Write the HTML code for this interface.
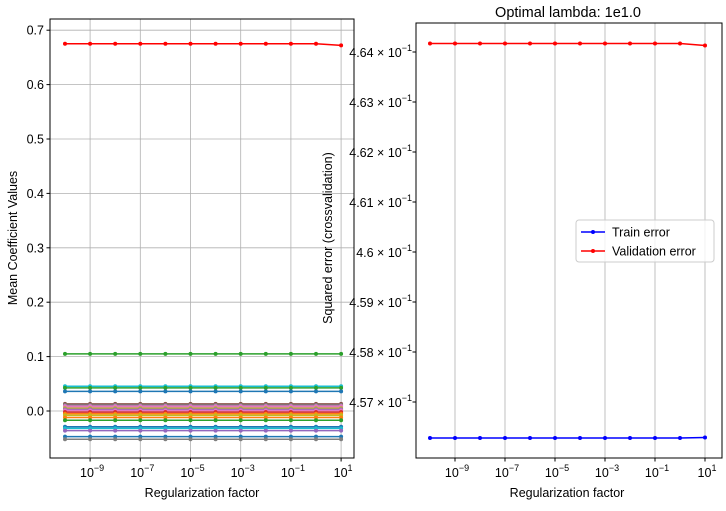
<!DOCTYPE html>
<html><head><meta charset="utf-8"><style>
body{margin:0;background:#fff;}
svg text{font-family:"Liberation Sans",sans-serif;fill:#000;}
</style></head><body>
<svg id="c" width="726" height="506" xmlns="http://www.w3.org/2000/svg"></svg>
<script>
const lambdasExp=[-10,-9,-8,-7,-6,-5,-4,-3,-2,-1,0,1];
const xTickExp=[-9,-7,-5,-3,-1,1];
const leftYTicks=[0.0,0.1,0.2,0.3,0.4,0.5,0.6,0.7];
const coefBase=[0.675,0.105,0.0455,0.0424,0.036,0.013,0.011,0.009,0.007,0.005,0.003,0.001,-0.002,-0.005,-0.008,-0.012,-0.017,-0.029,-0.032,-0.036,-0.047,-0.052];
const coefColors=['#ff0000','#2ca02c','#17becf','#2ca02c','#1f77b4','#8c564b','#7f7f7f','#e377c2','#e377c2','#bcbd22','#9467bd','#e377c2','#d62728','#ff7f0e','#bcbd22','#ff7f0e','#2ca02c','#1f77b4','#17becf','#9467bd','#1f77b4','#7f7f7f'];
const coefLast=[0.672];
const trainErr=[0.45628,0.45628,0.45628,0.45628,0.45628,0.45628,0.45628,0.45628,0.45628,0.45628,0.45628,0.45629];
const valErr=[0.46417,0.46417,0.46417,0.46417,0.46417,0.46417,0.46417,0.46417,0.46417,0.46417,0.46417,0.46413];
const rightYTicks=[0.457,0.458,0.459,0.46,0.461,0.462,0.463,0.464];
const rightYLabels=['4.57','4.58','4.59','4.6','4.61','4.62','4.63','4.64'];

const svg=document.getElementById('c');const NS='http://www.w3.org/2000/svg';
function el(t,a,p){const e=document.createElementNS(NS,t);for(const k in a)e.setAttribute(k,a[k]);(p||svg).appendChild(e);return e;}
const L={x0:50,x1:354,y0:19,y1:458};
const lx=e=>65+(e+10)*25.1;
const ly=v=>411-v*544;
const R={x0:416,x1:722,y0:23,y1:458};
const rx=e=>430+(e+10)*25;
const ry=v=>52+(0.464-v)*50000;

function axesBox(A,name){const r=el('rect',{x:A.x0,y:A.y0,width:A.x1-A.x0,height:A.y1-A.y0,fill:'none',stroke:'#000','stroke-width':1});}
let g=el('g',{});
xTickExp.forEach(e=>el('line',{x1:lx(e),x2:lx(e),y1:L.y0,y2:L.y1,stroke:'#b0b0b0','stroke-width':0.8},g));
leftYTicks.forEach(v=>el('line',{x1:L.x0,x2:L.x1,y1:ly(v),y2:ly(v),stroke:'#b0b0b0','stroke-width':0.8},g));
let g2=el('g',{});
xTickExp.forEach(e=>el('line',{x1:rx(e),x2:rx(e),y1:R.y0,y2:R.y1,stroke:'#b0b0b0','stroke-width':0.8},g2));
coefBase.forEach((b,i)=>{
  const s=el('g',{});
  
  
  const vals=lambdasExp.map((e,j)=>(i<coefLast.length&&j===lambdasExp.length-1)?coefLast[i]:b);
  el('polyline',{points:vals.map((v,j)=>lx(lambdasExp[j])+','+ly(v)).join(' '),fill:'none',stroke:coefColors[i],'stroke-width':1.5},s);
  vals.forEach((v,j)=>el('circle',{cx:lx(lambdasExp[j]),cy:ly(v),r:2,fill:coefColors[i]},s));
});
function series(arr,col,name){const s=el('g',{});
  el('polyline',{points:arr.map((v,j)=>rx(lambdasExp[j])+','+ry(v)).join(' '),fill:'none',stroke:col,'stroke-width':1.5},s);
  arr.forEach((v,j)=>el('circle',{cx:rx(lambdasExp[j]),cy:ry(v),r:2,fill:col},s));}
series(trainErr,'#0000ff','train-error-line');
series(valErr,'#ff0000','validation-error-line');
axesBox(L,'left-axes');axesBox(R,'right-axes');
function xt(A,fx,pre){xTickExp.forEach(e=>{const x=fx(e);el('line',{x1:x,x2:x,y1:A.y1,y2:A.y1+3.5,stroke:'#000'});
  const t=el('text',{x:x+2,y:A.y1+19,'font-size':12.5,'text-anchor':'middle'});
  t.innerHTML='10<tspan dy="-6" font-size="9">'+(e<0?'−'+(-e):e)+'</tspan>';});}
xt(L,lx,'left');xt(R,rx,'right');
leftYTicks.forEach(v=>{const y=ly(v);el('line',{x1:L.x0-3.5,x2:L.x0,y1:y,y2:y,stroke:'#000'});
  const t=el('text',{x:L.x0-6,y:y+4.5,'font-size':12.5,'text-anchor':'end'});t.textContent=v.toFixed(1);});
rightYTicks.forEach((v,i)=>{const y=ry(v);el('line',{x1:R.x0-3.5,x2:R.x0,y1:y,y2:y,stroke:'#000'});
  const t=el('text',{x:R.x0-4,y:y+5,'font-size':12.5,'text-anchor':'end'});
  t.innerHTML=rightYLabels[i]+' × 10<tspan dy="-6" font-size="9">−1</tspan>';});
function txt(x,y,s,name,extra){const t=el('text',Object.assign({x:x,y:y,'font-size':12.5,'text-anchor':'middle'},extra||{}));t.textContent=s;return t;}
txt(202,497,'Regularization factor','left-x-axis-title');
txt(567,497,'Regularization factor','right-x-axis-title');
txt(17,238,'Mean Coefficient Values','left-y-axis-title',{transform:'rotate(-90 17 238)'});
txt(332,238,'Squared error (crossvalidation)','right-y-axis-title',{transform:'rotate(-90 332 238)'});
txt(568,17,'Optimal lambda: 1e1.0','chart-title',{'font-size':14.5});
const lg=el('g',{});
el('rect',{x:576,y:220,width:138,height:42,rx:3,fill:'#fff','fill-opacity':0.8,stroke:'#ccc'},lg);
[['Train error','#0000ff',232],['Validation error','#ff0000',251]].forEach(([n,c,y])=>{
  const e=el('g',{},lg);
  el('line',{x1:581,x2:605,y1:y,y2:y,stroke:c,'stroke-width':1.5},e);el('circle',{cx:593,cy:y,r:2,fill:c},e);
  const t=el('text',{x:612,y:y+4.5,'font-size':12.5},e);t.textContent=n;});
</script>
</body></html>
